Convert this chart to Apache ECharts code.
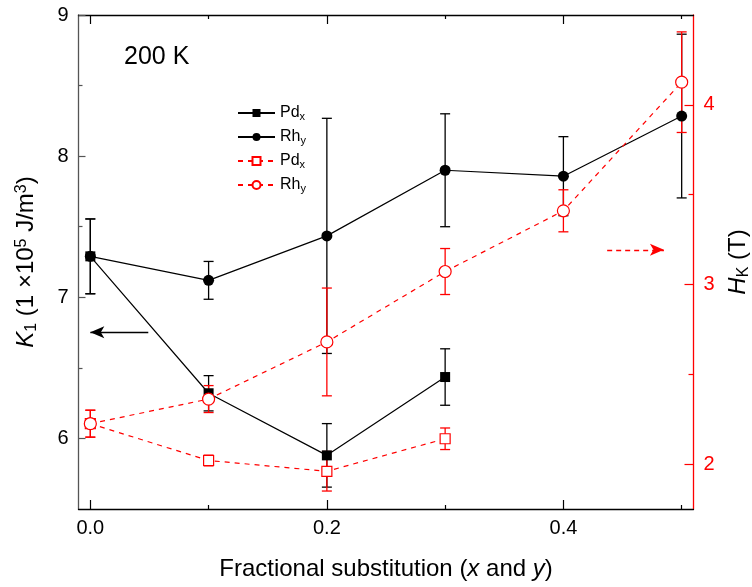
<!DOCTYPE html>
<html>
<head>
<meta charset="utf-8">
<script src="https://cdn.jsdelivr.net/npm/echarts@6/dist/echarts.min.js"></script>
<style>
html,body{margin:0;padding:0;background:#fff;}
#chart{width:752px;height:587px;}
</style>
</head>
<body>
<div id="chart"></div>
<script>
// ---- data ----
const xRh = [0, 0.1, 0.2, 0.3, 0.4, 0.5];
const xPd = [0, 0.1, 0.2, 0.3];
const K1_Pd = [7.29, 6.32, 5.88, 6.435];
const K1_Pd_err = [0.265, 0.125, 0.225, 0.2];
const K1_Rh = [7.29, 7.12, 7.435, 7.9, 7.858, 8.284];
const K1_Rh_err = [0.265, 0.134, 0.833, 0.4, 0.28, 0.58];
const HK_Pd = [2.225, 2.02, 1.96, 2.141];
const HK_Pd_err = [0.075, 0.03, 0.11, 0.06];
const HK_Rh = [2.225, 2.362, 2.68, 3.072, 3.41, 4.126];
const HK_Rh_err = [0.075, 0.075, 0.3, 0.128, 0.117, 0.28];
const xMajor = [0, 0.2, 0.4];
const xMinor = [0.1, 0.3, 0.5];
const kMajor = [6, 7, 8, 9];
const kMinor = [6.5, 7.5, 8.5];
const hMajor = [2, 3, 4];
const hMinor = [2.5, 3.5];
// annotation arrows (data coords)
const kArrow = [[0.049, 6.752], [0.0, 6.752]];
const hArrow = [[0.437, 3.193], [0.485, 3.193]];

const RED = '#ff0000';
const FONT = '"Liberation Sans", Arial, sans-serif';

function pairs(xs, ys) { return xs.map((x, i) => [x, ys[i]]); }
function errData(xs, ys, es) { return xs.map((x, i) => [x, ys[i] - es[i], ys[i] + es[i]]); }

function errSeries(xs, ys, es, yIdx, color) {
  return {
    type: 'custom', xAxisIndex: 0, yAxisIndex: yIdx, z: 1, silent: true,
    data: errData(xs, ys, es),
    encode: { x: 0, y: [1, 2] },
    renderItem: function (params, api) {
      const x = api.value(0), lo = api.value(1), hi = api.value(2);
      const p1 = api.coord([x, hi]), p2 = api.coord([x, lo]);
      const w = 5;
      const st = { stroke: color, lineWidth: 1.3 };
      return { type: 'group', children: [
        { type: 'line', shape: { x1: p1[0], y1: p1[1], x2: p2[0], y2: p2[1] }, style: st },
        { type: 'line', shape: { x1: p1[0] - w, y1: p1[1], x2: p1[0] + w, y2: p1[1] }, style: st },
        { type: 'line', shape: { x1: p2[0] - w, y1: p2[1], x2: p2[0] + w, y2: p2[1] }, style: st }
      ]};
    }
  };
}

const labels = {
  PdK: '{n|Pd}{s|x}', RhK: '{n|Rh}{s|y}', PdH: '{n|Pd}{s|x}', RhH: '{n|Rh}{s|y}'
};

function xAx(pos, ticks, len, showLine, showLabel) {
  return {
    type: 'value', position: pos, min: -0.01, max: 0.51, gridIndex: 0,
    axisLine: { show: showLine, onZero: false, lineStyle: { color: '#000', width: 1.3 } },
    axisTick: { show: true, inside: true, length: len, customValues: ticks, lineStyle: { color: '#000', width: 1.2 } },
    axisLabel: { show: showLabel, customValues: ticks, margin: 9, color: '#000', fontSize: 20, fontFamily: FONT,
      formatter: v => v.toFixed(1) },
    splitLine: { show: false }
  };
}
function yAx(pos, min, max, ticks, len, color, showLine, showLabel) {
  return {
    type: 'value', position: pos, min: min, max: max, gridIndex: 0,
    axisLine: { show: showLine, onZero: false, lineStyle: { color: color, width: 1.3 } },
    axisTick: { show: true, inside: true, length: len, customValues: ticks, lineStyle: { color: color, width: 1.2 } },
    axisLabel: { show: showLabel, customValues: ticks, margin: 10, color: color === '#555' ? '#000' : color, fontSize: 20, fontFamily: FONT },
    splitLine: { show: false }
  };
}

const chart = echarts.init(document.getElementById('chart'), null, { renderer: 'canvas' });

const xMain = xAx('bottom', xMajor, 9, true, true);
xMain.name = '{n|Fractional substitution (}{i|x}{n| and }{i|y}{n|)}';
xMain.nameLocation = 'middle';
xMain.nameGap = 48;
xMain.nameTextStyle = { rich: {
  n: { fontSize: 24, fontFamily: FONT, color: '#000' },
  i: { fontSize: 24, fontFamily: FONT, fontStyle: 'italic', color: '#000' } } };

const yK = yAx('left', 5.5, 9, kMajor, 7, '#555', true, true);
yK.name = '{i|K}{sub|1}{n| (1 ×10}{sup|5}{n| J/m}{sup|3}{n|)}';
yK.nameLocation = 'middle';
yK.nameRotate = 90;
yK.nameGap = 39;
yK.nameTextStyle = { rich: {
  n: { fontSize: 24, fontFamily: FONT, color: '#000' },
  i: { fontSize: 24, fontFamily: FONT, fontStyle: 'italic', color: '#000' },
  sub: { fontSize: 16, fontFamily: FONT, color: '#000', verticalAlign: 'bottom', padding: [10, 0, 0, 0] },
  sup: { fontSize: 16, fontFamily: FONT, color: '#000', verticalAlign: 'top', padding: [0, 0, 10, 0] } } };

const yH = yAx('right', 1.75, 4.5, hMajor, 9, RED, true, true);
yH.name = '{i|H}{sub|K}{n| (T)}';
yH.nameLocation = 'middle';
yH.nameRotate = 90;
yH.nameGap = 32;
yH.nameTextStyle = { rich: {
  n: { fontSize: 24, fontFamily: FONT, color: '#000' },
  i: { fontSize: 24, fontFamily: FONT, fontStyle: 'italic', color: '#000' },
  sub: { fontSize: 16, fontFamily: FONT, color: '#000', verticalAlign: 'bottom', padding: [10, 0, 0, 0] } } };

const option = {
  animation: false,
  backgroundColor: '#fff',
  grid: { left: 78.5, right: 58.5, top: 15, bottom: 78, containLabel: false, outerBoundsMode: 'none' },
  xAxis: [
    xMain,
    xAx('bottom', xMinor, 4, false, false),
    xAx('top', xMajor, 9, true, false),
    xAx('top', xMinor, 4, false, false)
  ],
  yAxis: [
    yK,
    yAx('left', 5.5, 9, kMinor, 4, '#555', false, false),
    yH,
    yAx('right', 1.75, 4.5, hMinor, 5, RED, false, false)
  ],
  legend: {
    orient: 'vertical', left: 232, top: 99,
    itemWidth: 37, itemHeight: 10, itemGap: 6,
    data: ['PdK', 'RhK', 'PdH', 'RhH'],
    formatter: name => labels[name],
    textStyle: { color: '#000', fontFamily: FONT, lineHeight: 18,
      rich: {
        n: { fontSize: 16, fontFamily: FONT, color: '#000', lineHeight: 18 },
        s: { fontSize: 11, fontFamily: FONT, color: '#000', verticalAlign: 'bottom', padding: [7, 0, 0, 0], lineHeight: 18 }
      } }
  },
  graphic: [
    { type: 'text', left: 124, top: 45, style: { text: '200 K', fontSize: 25, fontFamily: FONT, fill: '#000' } }
  ],
  series: [
    errSeries(xPd, K1_Pd, K1_Pd_err, 0, '#000'),
    errSeries(xRh, K1_Rh, K1_Rh_err, 0, '#000'),
    errSeries(xPd, HK_Pd, HK_Pd_err, 2, RED),
    errSeries(xRh, HK_Rh, HK_Rh_err, 2, RED),
    {
      name: 'PdK', type: 'line', xAxisIndex: 0, yAxisIndex: 0, z: 3,
      data: pairs(xPd, K1_Pd), symbol: 'rect', symbolSize: 10,
      lineStyle: { color: '#000', width: 1.2 }, itemStyle: { color: '#000' },
      markLine: {
        silent: true, symbol: ['none', 'arrow'], symbolSize: [9, 14],
        label: { show: false },
        lineStyle: { color: '#000', width: 1.3, type: 'solid' },
        data: [[{ coord: kArrow[0] }, { coord: kArrow[1] }]]
      }
    },
    {
      name: 'RhK', type: 'line', xAxisIndex: 0, yAxisIndex: 0, z: 3,
      data: pairs(xRh, K1_Rh), symbol: 'circle', symbolSize: 11,
      lineStyle: { color: '#000', width: 1.2 }, itemStyle: { color: '#000' }
    },
    {
      name: 'PdH', type: 'line', xAxisIndex: 0, yAxisIndex: 2, z: 4,
      data: pairs(xPd, HK_Pd), symbol: 'rect', symbolSize: 10,
      lineStyle: { color: RED, width: 1.2, type: [5, 5] },
      itemStyle: { color: '#fff', borderColor: RED, borderWidth: 1.2 },
      markLine: {
        silent: true, symbol: ['none', 'arrow'], symbolSize: [9, 14],
        label: { show: false },
        lineStyle: { color: RED, width: 1.3, type: [5, 4] },
        data: [[{ coord: hArrow[0] }, { coord: hArrow[1] }]]
      }
    },
    {
      name: 'RhH', type: 'line', xAxisIndex: 0, yAxisIndex: 2, z: 4,
      data: pairs(xRh, HK_Rh), symbol: 'circle', symbolSize: 12,
      lineStyle: { color: RED, width: 1.2, type: [5, 5] },
      itemStyle: { color: '#fff', borderColor: RED, borderWidth: 1.2 }
    }
  ]
};
chart.setOption(option);
</script>
</body>
</html>
